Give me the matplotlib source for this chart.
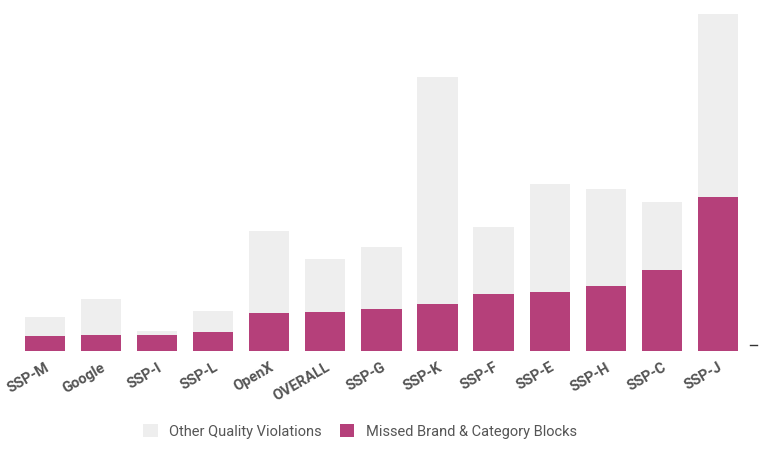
import matplotlib
matplotlib.use("Agg")
import matplotlib.pyplot as plt
import numpy as np

categories = ["SSP-M","Google","SSP-I","SSP-L","OpenX","OVERALL","SSP-G","SSP-K","SSP-F","SSP-E","SSP-H","SSP-C","SSP-J"]
missed = [15,16,16,19,38,39,42,47,57,59,65,81,154]
other = [19,36,4,21,82,53,62,227,67,108,97,68,183]

plt.rcParams["font.family"] = "Roboto"
fig = plt.figure(figsize=(7.6,4.6), dpi=100)
ax = fig.add_axes([10/760, 108/460, 740/760, 337/460])
x = np.arange(len(categories))
ax.bar(x, missed, width=0.72, color="#b5407a", label="Missed Brand & Category Blocks")
ax.bar(x, other, bottom=missed, width=0.72, color="#eeeeee", label="Other Quality Violations")
ax.set_xlim(-0.62, 12.57)
ax.set_ylim(0, 337)
for s in ax.spines.values():
    s.set_visible(False)
ax.set_yticks([])
ax.set_xticks(x)
ax.set_xticklabels(categories, rotation=30, ha="right", rotation_mode="anchor",
                   fontsize=10.5, fontweight="bold", color="#555555")
ax.tick_params(axis="x", length=0, pad=6)
for lbl in ax.get_xticklabels():
    lbl.set_x(lbl.get_position()[0])
ax.plot([1.0, 1.01], [6, 6], transform=ax.get_yaxis_transform(), color="#333", lw=1, clip_on=False)
h, l = ax.get_legend_handles_labels()
fig.legend(h[::-1], l[::-1], loc="center", bbox_to_anchor=(360/760, 1-432/460), ncol=2,
           frameon=False, fontsize=10.5, handlelength=1, handleheight=1, columnspacing=1.2,
           labelcolor="#555555")
fig.savefig("out.png", dpi=100)
